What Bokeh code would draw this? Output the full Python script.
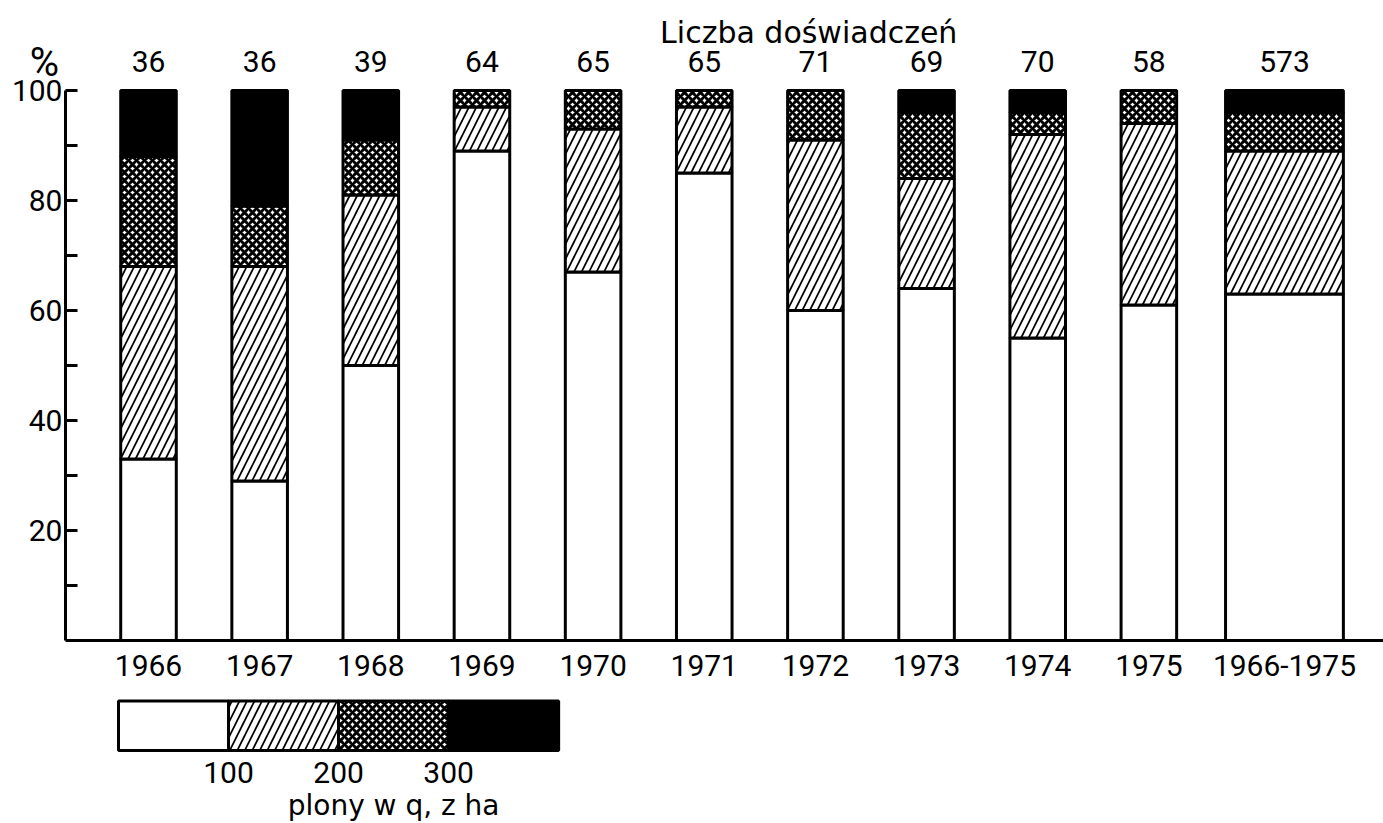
import numpy as np
from bokeh.plotting import figure
from bokeh.models import Range1d, FixedTicker
from bokeh.core.properties import value
from bokeh.embed import file_html
from bokeh.resources import INLINE

# ---------------- data ----------------
labels = ["1966", "1967", "1968", "1969", "1970", "1971", "1972",
          "1973", "1974", "1975", "1966-1975"]
counts = [36, 36, 39, 64, 65, 65, 71, 69, 70, 58, 573]
below_100 = [33, 29, 50, 89, 67, 85, 60, 64, 55, 61, 63]
from_100_200 = [35, 39, 31, 8, 26, 12, 31, 20, 37, 33, 26]
from_200_300 = [20, 11, 10, 3, 7, 3, 9, 12, 4, 6, 7]
above_300 = [12, 21, 9, 0, 0, 0, 0, 4, 4, 0, 4]
legend_ticks = ["100", "200", "300"]
y_ticks = [10, 20, 30, 40, 50, 60, 70, 80, 90, 100]
y_tick_labels = ["", "20", "", "40", "", "60", "", "80", "", "100"]

# ---------------- styles ----------------
DIGIT_FONT = "Roboto"
WORD_FONT = "DejaVu Sans"
DIGIT_SIZE = "30px"
layers = [below_100, from_100_200, from_200_300, above_300]
layer_styles = [
    dict(fill_color="white", hatch_pattern=" "),
    dict(fill_color="white", hatch_pattern="/", hatch_scale=15, hatch_weight=1.7),
    dict(fill_color="white", hatch_pattern="x", hatch_scale=8, hatch_weight=3.0),
    dict(fill_color="black", hatch_pattern=" "),
]

n = len(labels)
x = np.arange(n, dtype=float)
x[-1] += 0.22                      # gap before the summary bar
widths = np.full(n, 0.5)
widths[-1] = 1.06
axis_x = x[0] - 0.747              # where the value axis stands

p = figure(width=1383, height=823, output_backend="svg", toolbar_location=None,
           x_range=Range1d(-1.3315, 11.111), y_range=Range1d(-33.27, 116.36),
           min_border_left=0, min_border_right=0, min_border_top=0,
           min_border_bottom=0, x_axis_location=None, outline_line_color=None,
           background_fill_color="white", border_fill_color="white")
p.grid.visible = False

# y axis, standing inside the frame
ax = p.yaxis[0]
ax.fixed_location = axis_x
ax.ticker = FixedTicker(ticks=y_ticks)
ax.bounds = (0, 100)
ax.major_label_overrides = {t: l for t, l in zip(y_ticks, y_tick_labels)}
ax.major_tick_in = 12
ax.major_tick_out = 0
ax.minor_tick_in = 0
ax.minor_tick_out = 0
ax.axis_line_width = 3
ax.major_tick_line_width = 3
ax.major_label_standoff = 3
ax.major_label_text_font = DIGIT_FONT
ax.major_label_text_font_size = DIGIT_SIZE
ax.major_label_text_color = "black"

# stacked bars
bottom = np.zeros(n)
for vals, st in zip(layers, layer_styles):
    top = bottom + np.array(vals, dtype=float)
    p.vbar(x=x, width=widths, bottom=bottom, top=top, line_color="black",
           line_width=3, hatch_color="black", **st)
    bottom = top

# baseline
p.segment(x0=[axis_x], x1=[p.x_range.end], y0=[0], y1=[0],
          line_color="black", line_width=3)

# counts above bars
p.text(x=x, y=np.full(n, 105.2), text=[str(c) for c in counts],
       text_align="center", text_baseline="middle",
       text_font=value(DIGIT_FONT), text_font_size=DIGIT_SIZE, text_color="black")

# category labels
p.text(x=x, y=np.full(n, -4.6), text=labels,
       text_align="center", text_baseline="middle",
       text_font=value(DIGIT_FONT), text_font_size=DIGIT_SIZE, text_color="black")

# title
p.text(x=[5.94], y=[110.6], text=["Liczba doświadczeń"],
       text_align="center", text_baseline="middle",
       text_font=value(WORD_FONT), text_font_size="30px", text_color="black")

# percent sign
p.text(x=[axis_x - 0.19], y=[105.0], text=["%"],
       text_align="center", text_baseline="middle",
       text_font=value(DIGIT_FONT), text_font_size="40px", text_color="black")

# legend bar
leg_x0 = x[0] - 0.27
cell = 0.99
leg_left = [leg_x0 + i * cell for i in range(4)]
leg_right = [leg_x0 + (i + 1) * cell for i in range(4)]
for i, st in enumerate(layer_styles):
    p.quad(left=[leg_left[i]], right=[leg_right[i]], bottom=[-20.0], top=[-11.0],
           line_color="black", line_width=3, hatch_color="black", **st)

p.text(x=leg_right[:3], y=[-24.0] * 3, text=legend_ticks,
       text_align="center", text_baseline="middle",
       text_font=value(DIGIT_FONT), text_font_size=DIGIT_SIZE, text_color="black")
p.text(x=[(leg_right[1] + leg_right[2]) / 2], y=[-30.0], text=["plony w q, z ha"],
       text_align="center", text_baseline="middle",
       text_font=value(WORD_FONT), text_font_size="28px", text_color="black")

open("out.html", "w").write(file_html(p, INLINE))
